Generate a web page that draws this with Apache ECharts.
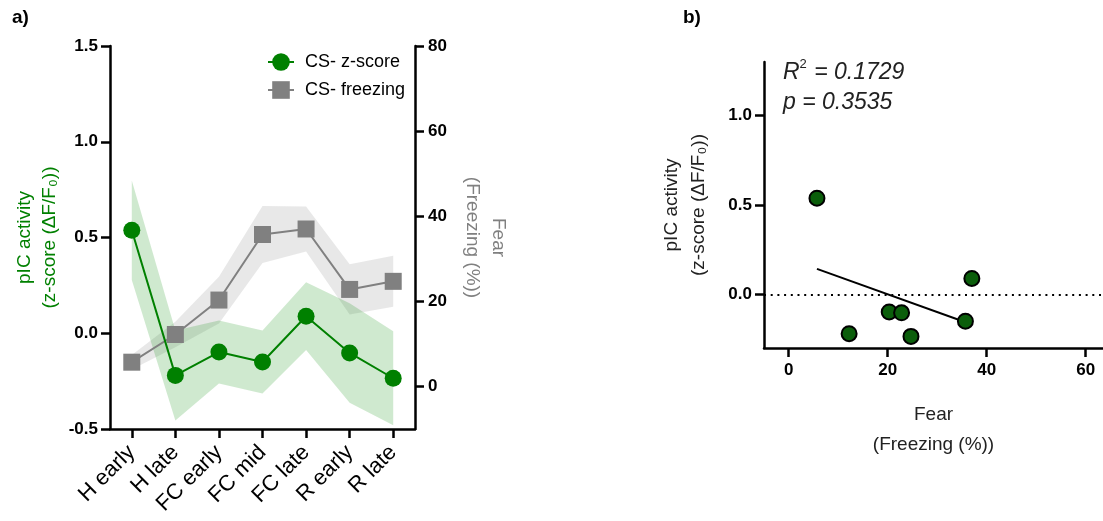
<!DOCTYPE html>
<html>
<head>
<meta charset="utf-8">
<script src="https://cdn.jsdelivr.net/npm/echarts@6/dist/echarts.min.js"></script>
<style>
html, body { margin: 0; padding: 0; background: #fff; }
#chart { width: 1103px; height: 521px; }
</style>
</head>
<body>
<div id="chart"></div>
<script>
// session phases (x of panel a)
var phases = ['H early', 'H late', 'FC early', 'FC mid', 'FC late', 'R early', 'R late'];
// CS- z-score, mean and sem
var zscore = [0.538, -0.22, -0.098, -0.15, 0.089, -0.103, -0.235];
var zscoreSem = [0.26, 0.235, 0.165, 0.165, 0.177, 0.26, 0.245];
// CS- freezing (%), mean and sem
var freezing = [5.7, 12.2, 20.3, 35.7, 37.0, 22.8, 24.7];
var freezingSem = [1.7, 3.0, 5.5, 6.7, 5.3, 5.9, 6.0];

// tick labels
var zTicks = [-0.5, 0, 0.5, 1, 1.5];
var fearTicks = [0, 20, 40, 60, 80];
var corrXTicks = [0, 20, 40, 60];
var corrYTicks = [0, 0.5, 1];

var FONT = '"Liberation Sans", Arial, sans-serif';
var GREEN = '#008000';
var GRAY = '#808080';

function lower(m, s) { return m.map(function (v, i) { return +(v - s[i]).toFixed(4); }); }
function width(s) { return s.map(function (v) { return +(2 * v).toFixed(4); }); }

// scatter points = (freezing, z-score) per phase
var points = freezing.map(function (f, i) { return [f, zscore[i]]; });

// least squares fit for the regression line
var n = points.length, mx = 0, my = 0;
points.forEach(function (p) { mx += p[0] / n; my += p[1] / n; });
var sxy = 0, sxx = 0;
points.forEach(function (p) { sxy += (p[0] - mx) * (p[1] - my); sxx += (p[0] - mx) * (p[0] - mx); });
var slope = sxy / sxx, icpt = my - slope * mx;
var xs = freezing.slice().sort(function (a, b) { return a - b; });
var fitLine = [[xs[0], icpt + slope * xs[0]], [xs[n - 1], icpt + slope * xs[n - 1]]];

var tickLbl = { fontFamily: FONT, fontWeight: 'bold', fontSize: 17, color: '#000', margin: 12 };
var axLine = { show: true, onZero: false, lineStyle: { color: '#000', width: 2.5 } };
var axTick = { show: true, length: 9, lineStyle: { color: '#000', width: 2.5 } };

function run() {
  var chart = echarts.init(document.getElementById('chart'));
  var option = {
    animation: false,
    textStyle: { fontFamily: FONT },
    grid: [
      { left: 110, top: 46, width: 305, height: 383 },
      { left: 764, top: 62, right: 0, height: 286 }
    ],
    legend: {
      data: ['CS- z-score', 'CS- freezing'],
      orient: 'vertical', left: 262, top: 48, itemGap: 10,
      itemWidth: 26, itemHeight: 22,
      textStyle: { fontSize: 18, color: '#000', fontFamily: FONT, padding: [0, 0, 0, 6] }
    },
    xAxis: [
      {
        type: 'category', gridIndex: 0, data: phases, boundaryGap: true,
        axisLine: axLine,
        axisTick: { show: true, alignWithLabel: true, length: 9, lineStyle: { color: '#000', width: 2.5 } },
        axisLabel: { rotate: 45, fontSize: 22, color: '#000', fontFamily: FONT, margin: 20, interval: 0 }
      },
      {
        type: 'value', gridIndex: 1, min: -5, max: 63.5,
        splitLine: { show: false },
        axisLine: axLine,
        axisTick: Object.assign({ customValues: corrXTicks }, axTick),
        axisLabel: Object.assign({}, tickLbl, { customValues: corrXTicks, margin: 14 }),
        name: 'Fear\n(Freezing (%))', nameLocation: 'middle', nameGap: 52,
        nameTextStyle: { fontSize: 19, color: '#222', lineHeight: 30, fontFamily: FONT }
      }
    ],
    yAxis: [
      {
        type: 'value', gridIndex: 0, min: -0.5, max: 1.5, interval: 0.5,
        splitLine: { show: false },
        axisLine: axLine, axisTick: axTick,
        axisLabel: Object.assign({ formatter: function (v) { return v.toFixed(1); }, customValues: zTicks }, tickLbl),
        name: 'pIC activity\n(z-score (\u0394F/F\u2080))', nameLocation: 'middle', nameRotate: 90, nameGap: 48,
        nameTextStyle: { fontSize: 19, color: GREEN, lineHeight: 25, fontFamily: FONT }
      },
      {
        type: 'value', gridIndex: 0, position: 'right', min: -10, max: 80,
        splitLine: { show: false },
        axisLine: axLine,
        axisTick: Object.assign({ customValues: fearTicks }, axTick),
        axisLabel: Object.assign({ customValues: fearTicks }, tickLbl, { margin: 13 }),
        name: 'Fear\n(Freezing (%))', nameLocation: 'middle', nameRotate: -90, nameGap: 44,
        nameTextStyle: { fontSize: 19, color: GRAY, lineHeight: 26, fontFamily: FONT }
      },
      {
        type: 'value', gridIndex: 1, min: -0.3, max: 1.3,
        splitLine: { show: false },
        axisLine: axLine,
        axisTick: Object.assign({ customValues: corrYTicks }, axTick),
        axisLabel: Object.assign({ customValues: corrYTicks, formatter: function (v) { return v.toFixed(1); } }, tickLbl),
        name: 'pIC activity\n(z-score (\u0394F/F\u2080))', nameLocation: 'middle', nameRotate: 90, nameGap: 52,
        nameTextStyle: { fontSize: 19, color: '#222', lineHeight: 27, fontFamily: FONT }
      }
    ],
    series: [
      // freezing sem band
      { type: 'line', xAxisIndex: 0, yAxisIndex: 1, data: lower(freezing, freezingSem), stack: 'fband', stackStrategy: 'all',
        symbol: 'none', lineStyle: { opacity: 0 }, silent: true, z: 1 },
      { type: 'line', xAxisIndex: 0, yAxisIndex: 1, data: width(freezingSem), stack: 'fband', stackStrategy: 'all',
        symbol: 'none', lineStyle: { opacity: 0 }, areaStyle: { color: 'rgba(150,150,150,0.22)', opacity: 1 }, silent: true, z: 1 },
      // z-score sem band
      { type: 'line', xAxisIndex: 0, yAxisIndex: 0, data: lower(zscore, zscoreSem), stack: 'zband', stackStrategy: 'all',
        symbol: 'none', lineStyle: { opacity: 0 }, silent: true, z: 2 },
      { type: 'line', xAxisIndex: 0, yAxisIndex: 0, data: width(zscoreSem), stack: 'zband', stackStrategy: 'all',
        symbol: 'none', lineStyle: { opacity: 0 }, areaStyle: { color: 'rgba(0,140,0,0.19)', opacity: 1 }, silent: true, z: 2 },
      {
        name: 'CS- freezing', type: 'line', xAxisIndex: 0, yAxisIndex: 1, data: freezing,
        symbol: 'rect', symbolSize: 17, itemStyle: { color: GRAY }, lineStyle: { color: GRAY, width: 2 }, z: 3
      },
      {
        name: 'CS- z-score', type: 'line', xAxisIndex: 0, yAxisIndex: 0, data: zscore,
        symbol: 'circle', symbolSize: 17, itemStyle: { color: GREEN }, lineStyle: { color: GREEN, width: 2 }, z: 4
      },
      // panel b
      {
        type: 'line', xAxisIndex: 1, yAxisIndex: 2, data: fitLine, symbol: 'none',
        lineStyle: { color: '#000', width: 2 }, z: 3,
        markLine: {
          silent: true, symbol: 'none', label: { show: false },
          lineStyle: { color: '#000', type: [2, 4.7], width: 1.8 },
          data: [{ yAxis: 0 }]
        }
      },
      {
        type: 'scatter', xAxisIndex: 1, yAxisIndex: 2, data: points, symbolSize: 15,
        itemStyle: { color: '#0b5e0b', borderColor: '#000', borderWidth: 2, opacity: 1 }, z: 5
      }
    ],
    graphic: [
      { type: 'text', left: 12, top: 8, style: { text: 'a)', font: 'bold 19px ' + FONT, fill: '#000' } },
      { type: 'text', left: 683, top: 8, style: { text: 'b)', font: 'bold 19px ' + FONT, fill: '#000' } },
      {
        type: 'text', left: 783, top: 58,
        style: {
          text: '{i|R}{s|2}{i| = 0.1729}\n{i|p = 0.3535}',
          fill: '#222',
          rich: {
            i: { fontFamily: FONT, fontStyle: 'italic', fontSize: 23, lineHeight: 30 },
            s: { fontFamily: FONT, fontSize: 13, verticalAlign: 'top', lineHeight: 30, padding: [0, 1, 12, 0] }
          }
        }
      }
    ]
  };
  chart.setOption(option);
}

if (document.readyState !== 'loading') {
  run();
} else {
  document.addEventListener('DOMContentLoaded', run);
}
</script>
</body>
</html>
